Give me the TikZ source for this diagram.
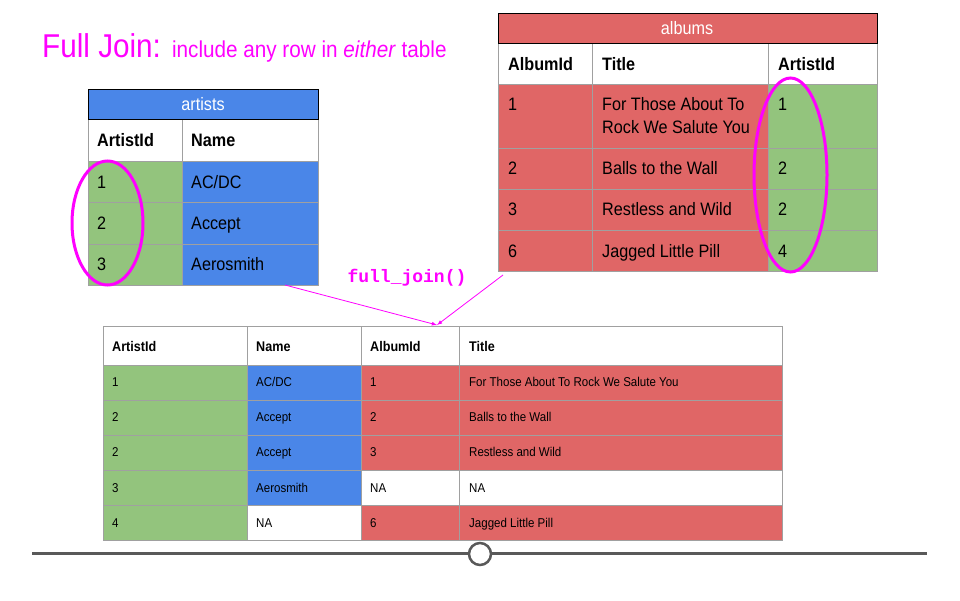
\documentclass[tikz,border=0pt]{standalone}
\usepackage{fontspec}
\setmainfont{Liberation Sans}[FakeStretch=0.9]
\setmonofont{Liberation Mono}
\definecolor{artblue}{HTML}{4A86E8}
\definecolor{idgreen}{HTML}{93C47D}
\definecolor{albred}{HTML}{E06666}
\definecolor{joinpink}{HTML}{FF00FF}
\definecolor{rulegray}{HTML}{A0A0A0}
\definecolor{slidergray}{HTML}{595959}
\tikzset{
  celltxt/.style={anchor=base west,inner sep=0pt,font=\fontsize{18}{20}\selectfont},
  cellhd/.style={celltxt,font=\fontsize{18}{20}\selectfont\bfseries},
  restxt/.style={anchor=base west,inner sep=0pt,font=\fontsize{12.8}{14}\selectfont},
  reshd/.style={restxt,font=\fontsize{14}{16}\selectfont\bfseries},
  rules/.style={draw=rulegray,line width=1pt},
  ring/.style={draw=joinpink,line width=3pt}
}
\begin{document}
\begin{tikzpicture}[x=1pt,y=-1pt,>=latex]
\useasboundingbox (0,0) rectangle (960,600);
% title
\node[anchor=base west,inner sep=0pt,text=joinpink] (title) at (42,57)
  {\fontsize{33}{35}\selectfont Full Join: \fontsize{23}{25}\selectfont include any row in \textit{either} table};
% artists table
\fill[idgreen] (88,161) rectangle (182,285);
\fill[artblue] (182,161) rectangle (318,285);
\draw[rules] (88,119) rectangle (318,285);
\foreach \y in {161,202,244} \draw[rules] (88,\y) -- (318,\y);
\draw[rules] (182,119) -- (182,285);
\draw[fill=artblue] (88,89) rectangle (318,119);
\node[inner sep=0pt,text=white,font=\fontsize{18}{20}\selectfont] (artists) at (203,104) {artists};
\node[cellhd] (ahd1) at (97,146.5) {ArtistId};
\node[cellhd] (ahd2) at (191,146.5) {Name};
\node[celltxt] (a1) at (97,188.5) {1};
\node[celltxt] (a2) at (97,229.5) {2};
\node[celltxt] (a3) at (97,270.5) {3};
\node[celltxt] (n1) at (191,188.5) {AC/DC};
\node[celltxt] (n2) at (191,229.5) {Accept};
\node[celltxt] (n3) at (191,270.5) {Aerosmith};
\draw[ring] (107.5,223) ellipse [x radius=35.5pt, y radius=62pt];
% albums table
\fill[albred] (498,84) rectangle (768,271);
\fill[idgreen] (768,84) rectangle (877,271);
\draw[rules] (498,43) rectangle (877,271);
\foreach \y in {84,148,189,230} \draw[rules] (498,\y) -- (877,\y);
\foreach \x in {592,768} \draw[rules] (\x,43) -- (\x,271);
\draw[fill=albred] (498,13) rectangle (877,43);
\node[inner sep=0pt,text=white,font=\fontsize{18}{20}\selectfont] (albums) at (687,28) {albums};
\node[cellhd] (bhd1) at (508,70.5) {AlbumId};
\node[cellhd] (bhd2) at (602,70.5) {Title};
\node[cellhd] (bhd3) at (778,70.5) {ArtistId};
\node[celltxt] (b1) at (508,110.5) {1};
\node[celltxt] (b2) at (508,174.5) {2};
\node[celltxt] (b3) at (508,215.5) {3};
\node[celltxt] (b4) at (508,257.5) {6};
\node[celltxt] (t1) at (602,110.5) {For Those About To};
\node[celltxt] (t1b) at (602,133) {Rock We Salute You};
\node[celltxt] (t2) at (602,174.5) {Balls to the Wall};
\node[celltxt] (t3) at (602,215.5) {Restless and Wild};
\node[celltxt] (t4) at (602,257.5) {Jagged Little Pill};
\node[celltxt] (c1) at (778,110.5) {1};
\node[celltxt] (c2) at (778,174.5) {2};
\node[celltxt] (c3) at (778,215.5) {2};
\node[celltxt] (c4) at (778,257.5) {4};
\draw[ring] (790.5,175) ellipse [x radius=36.5pt, y radius=97pt];
% join arrows
\coordinate (artfoot) at (285,285);
\coordinate (albfoot) at (503,275);
\coordinate (joinin) at (437,325);
\node[inner sep=0pt,text=joinpink,font=\ttfamily\bfseries\fontsize{18}{20}\selectfont] (fj) at (407,278) {full\_join()};
\draw[->,joinpink,line width=0.8pt] (artfoot) -- (joinin);
\draw[->,joinpink,line width=0.8pt] (albfoot) -- (joinin);
% result table
\fill[idgreen] (103,365) rectangle (247,540);
\fill[artblue] (247,365) rectangle (361,505);
\fill[albred] (361,365) rectangle (782,470);
\fill[albred] (361,505) rectangle (782,540);
\draw[rules] (103,326) rectangle (782,540);
\foreach \y in {365,400,435,470,505} \draw[rules] (103,\y) -- (782,\y);
\foreach \x in {247,361,459} \draw[rules] (\x,326) -- (\x,540);
\node[reshd] (rhd1) at (112,351) {ArtistId};
\node[reshd] (rhd2) at (256,351) {Name};
\node[reshd] (rhd3) at (370,351) {AlbumId};
\node[reshd] (rhd4) at (469,351) {Title};
\node[restxt] (r1a) at (112,386.5) {1};
\node[restxt] (r1b) at (256,386.5) {AC/DC};
\node[restxt] (r1c) at (370,386.5) {1};
\node[restxt] (r1d) at (469,386.5) {For Those About To Rock We Salute You};
\node[restxt] (r2a) at (112,421.5) {2};
\node[restxt] (r2b) at (256,421.5) {Accept};
\node[restxt] (r2c) at (370,421.5) {2};
\node[restxt] (r2d) at (469,421.5) {Balls to the Wall};
\node[restxt] (r3a) at (112,456.5) {2};
\node[restxt] (r3b) at (256,456.5) {Accept};
\node[restxt] (r3c) at (370,456.5) {3};
\node[restxt] (r3d) at (469,456.5) {Restless and Wild};
\node[restxt] (r4a) at (112,492.5) {3};
\node[restxt] (r4b) at (256,492.5) {Aerosmith};
\node[restxt] (r4c) at (370,492.5) {NA};
\node[restxt] (r4d) at (469,492.5) {NA};
\node[restxt] (r5a) at (112,527.5) {4};
\node[restxt] (r5b) at (256,527.5) {NA};
\node[restxt] (r5c) at (370,527.5) {6};
\node[restxt] (r5d) at (469,527.5) {Jagged Little Pill};
% slider
\coordinate (barL) at (32,553);
\coordinate (barR) at (927,553);
\draw[slidergray,line width=3pt] (barL) -- (barR);
\node[circle,draw=slidergray,line width=2.5pt,fill=white,minimum size=22pt,inner sep=0pt] (knob) at (480,554) {};
\end{tikzpicture}
\end{document}
